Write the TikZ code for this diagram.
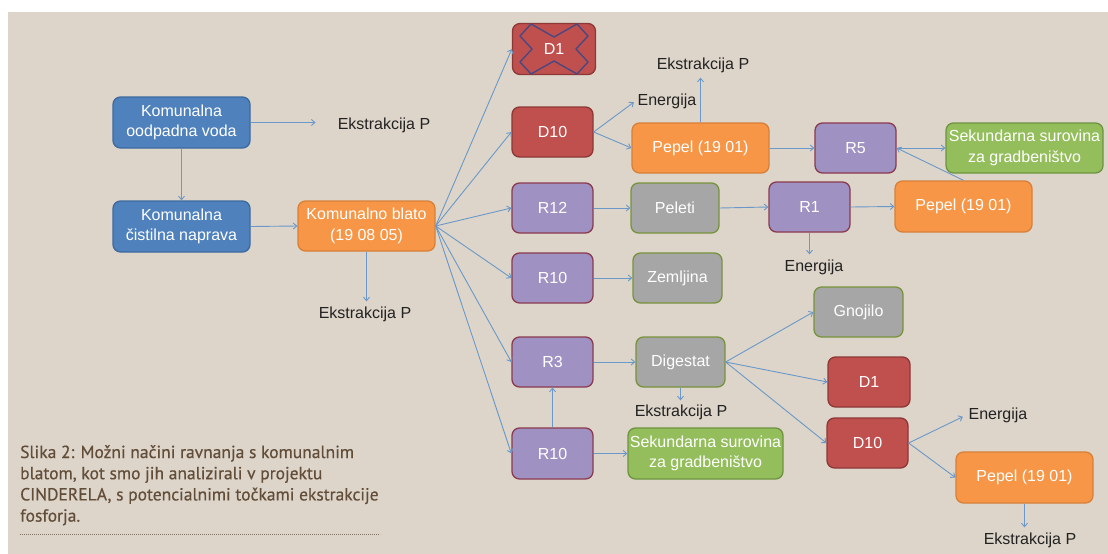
\documentclass[tikz,border=0pt]{standalone}
\usepackage{fontspec}
\setmainfont{Liberation Sans}
\newfontfamily\capfont[FakeBold=0.5]{PT Sans}
\usetikzlibrary{arrows.meta}
\definecolor{bgc}{HTML}{DDD5CA}
\definecolor{bluef}{HTML}{4F81BD}
\definecolor{blued}{HTML}{3D6A9F}
\definecolor{orangef}{HTML}{F79646}
\definecolor{oranged}{HTML}{D8803A}
\definecolor{redf}{HTML}{C0504D}
\definecolor{redd}{HTML}{8C3836}
\definecolor{purplef}{HTML}{A091C3}
\definecolor{purpled}{HTML}{8B3A4F}
\definecolor{grayf}{HTML}{A6A6A6}
\definecolor{grayd}{HTML}{77933C}
\definecolor{greenf}{HTML}{93BE5B}
\definecolor{greend}{HTML}{6E9440}
\definecolor{arrc}{HTML}{6A98C8}
\definecolor{xc}{HTML}{4A4880}
\definecolor{capc}{HTML}{624D39}
\definecolor{txtc}{HTML}{222222}
\tikzset{
  boxbase/.style={rounded corners=7.5pt, line width=1.3pt, text=white, align=center, inner sep=0pt,
    font=\fontsize{16}{20.5}\selectfont},
  bluebox/.style={boxbase, fill=bluef, draw=blued},
  orangebox/.style={boxbase, fill=orangef, draw=oranged},
  redbox/.style={boxbase, fill=redf, draw=redd},
  purplebox/.style={boxbase, fill=purplef, draw=purpled},
  graybox/.style={boxbase, fill=grayf, draw=grayd},
  greenbox/.style={boxbase, fill=greenf, draw=greend},
  sz/.style 2 args={minimum width=#1pt, minimum height=#2pt},
  lbl/.style={text=txtc, inner sep=2pt, font=\fontsize{16}{19}\selectfont},
  arr/.style={draw=arrc, line width=0.9pt, -{Straight Barb[length=3.5pt,width=6pt]}},
}
\begin{document}
\begin{tikzpicture}[x=1pt,y=-1pt]
\useasboundingbox (0,0) rectangle (1108,554);
\fill[white] (0,0) rectangle (1108,554);
\fill[bgc] (8,12) rectangle (1108,554);

% nodes
\node[bluebox, sz={137}{51}] (kov) at (181.5,122.5) {Komunalna\\oodpadna voda};
\node[bluebox, sz={137}{51}] (kcn) at (181.5,226.5) {Komunalna\\čistilna naprava};
\node[lbl] (ek1) at (384,125) {Ekstrakcija P};
\node[orangebox, sz={137}{50}] (blato) at (366.5,226) {Komunalno blato\\(19 08 05)};
\node[lbl] (ek2) at (365,314) {Ekstrakcija P};

\node[redbox, sz={83}{51}] (d1x) at (554,49) {D1};
\draw[xc, line width=1.4pt, line join=round] (554,49)
  ++(-23,-25) -- ++(23,13) -- ++(23,-13) -- ++(11,12) -- ++(-12,13) -- ++(12,13)
  -- ++(-11,12) -- ++(-23,-13) -- ++(-23,13) -- ++(-11,-12) -- ++(12,-13) -- ++(-12,-13) -- cycle;
\node[redbox, sz={81}{50}] (d10a) at (552.5,132) {D10};
\node[purplebox, sz={81}{50}] (r12) at (552.5,208) {R12};
\node[purplebox, sz={81}{50}] (r10a) at (552.5,278) {R10};
\node[purplebox, sz={81}{50}] (r3) at (552.5,362) {R3};
\node[purplebox, sz={81}{51}] (r10b) at (552.5,453.5) {R10};

\node[lbl] (en1) at (667,101) {Energija};
\node[orangebox, sz={137}{50}] (pep1) at (700.5,148) {Pepel (19 01)};
\node[lbl] (ek3) at (703,65) {Ekstrakcija P};
\node[graybox, sz={88}{50}] (peleti) at (675,208) {Peleti};
\node[graybox, sz={89}{50}] (zemljina) at (677.5,278) {Zemljina};
\node[purplebox, sz={81}{50}] (r1) at (809.5,207) {R1};
\node[lbl] (en2) at (814,267) {Energija};
\node[purplebox, sz={81}{50}] (r5) at (855.5,148) {R5};
\node[greenbox, sz={157}{50}] (sek1) at (1024.5,148) {Sekundarna surovina\\za gradbeništvo};
\node[orangebox, sz={137}{51}] (pep2) at (963.5,206.5) {Pepel (19 01)};

\node[graybox, sz={89}{50}] (digestat) at (680.5,362) {Digestat};
\node[lbl] (ek4) at (681,412) {Ekstrakcija P};
\node[greenbox, sz={155}{51}] (sek2) at (705.5,453.5) {Sekundarna surovina\\za gradbeništvo};
\node[graybox, sz={89}{50}] (gnojilo) at (858.5,312) {Gnojilo};
\node[redbox, sz={82}{50}] (d1b) at (869,382) {D1};
\node[redbox, sz={81}{50}] (d10b) at (867.5,443) {D10};
\node[lbl] (en3) at (998,415) {Energija};
\node[orangebox, sz={137}{51}] (pep3) at (1024.5,477.5) {Pepel (19 01)};
\node[lbl] (ek5) at (1030,540) {Ekstrakcija P};

% connectors
\draw[arr, shorten >=20pt] (kov.east) -- (kov.east -| ek1.west);
\draw[arr] (kov.south) -- (kcn.north);
\draw[arr] (kcn.east) -- (blato.west);
\draw[arr, shorten >=3pt] (blato.south) -- (blato.south |- ek2.north);
\foreach \t in {d1x,d10a,r12,r10a,r3,r10b}
  \draw[arr] (blato.east) -- (\t.west);
\draw[arr, shorten >=2pt] (d10a.east) -- (en1.west);
\draw[arr] (d10a.east) -- (pep1.west);
\draw[arr, shorten >=3pt] (pep1.north) -- (pep1.north |- ek3.south);
\draw[arr] (pep1.east) -- (r5.west);
\draw[arr] (r5.east) -- (sek1.west);
\draw[arr] (pep2.north) -- (r5.east);
\draw[arr] (r12.east) -- (peleti.west);
\draw[arr] (peleti.east) -- (r1.west);
\draw[arr] (r1.east) -- (pep2.west);
\draw[arr, shorten >=3pt] (r1.south) -- (r1.south |- en2.north);
\draw[arr] (r10a.east) -- (zemljina.west);
\draw[arr] (r3.east) -- (digestat.west);
\draw[arr, shorten >=2pt] (digestat.south) -- (digestat.south |- ek4.north);
\draw[arr] (digestat.east) -- (gnojilo.west);
\draw[arr] (digestat.east) -- (d1b.west);
\draw[arr] (digestat.east) -- (d10b.west);
\draw[arr] (r10b.north) -- (r3.south);
\draw[arr] (r10b.east) -- (sek2.west);
\draw[arr, shorten >=4pt] (d10b.east) -- (en3.west);
\draw[arr] (d10b.east) -- (pep3.west);
\draw[arr, shorten >=3pt] (pep3.south) -- (pep3.south |- ek5.north);

% caption
\node[anchor=north west, inner sep=0pt, align=left, text=capc,
  font=\capfont\fontsize{17.5}{21.2}\selectfont] (cap) at (20,445)
  {Slika 2: Možni načini ravnanja s komunalnim\\blatom, kot smo jih analizirali v projektu\\CINDERELA, s potencialnimi točkami ekstrakcije\\fosforja.};
\coordinate (dl) at (20,534);
\coordinate (dr) at (380,534);
\draw[capc!80, line width=0.9pt, dash pattern=on 0.9pt off 1.1pt] (dl) -- (dr);
\end{tikzpicture}
\end{document}
